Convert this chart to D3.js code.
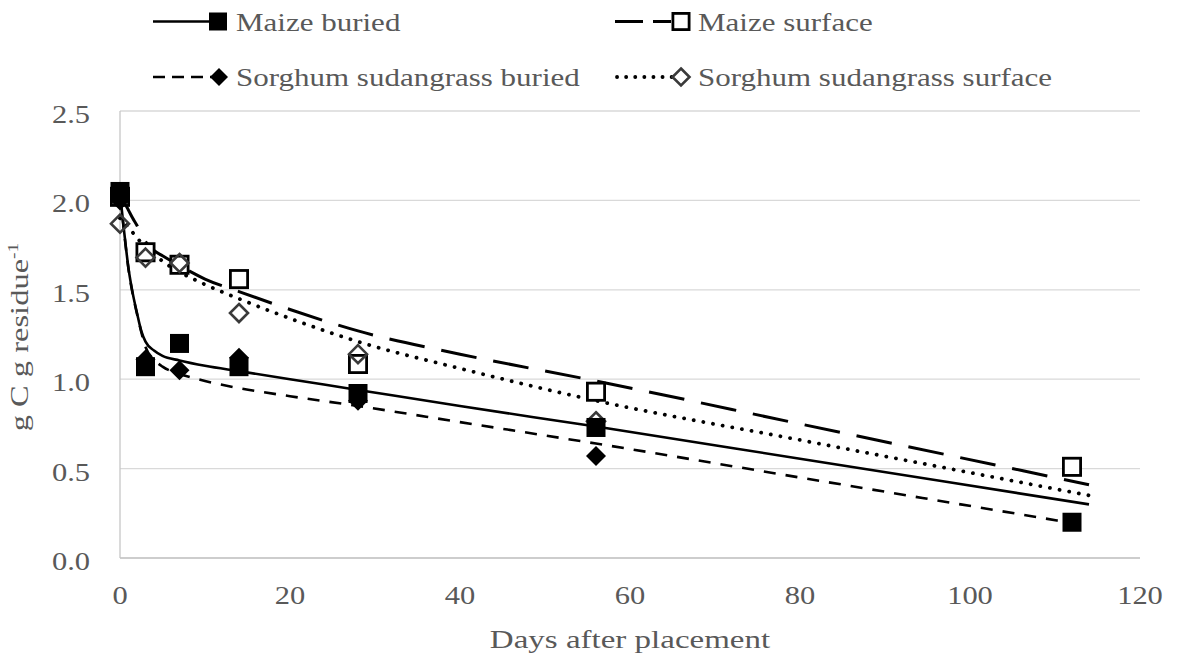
<!DOCTYPE html>
<html>
<head>
<meta charset="utf-8">
<script src="https://cdn.jsdelivr.net/npm/d3@7"></script>
<style>
html,body{margin:0;padding:0;background:#fff;}
svg{display:block;}
</style>
</head>
<body>
<svg id="chart" width="1177" height="666"></svg>
<script>
// ---- data ----
const days = [0, 3, 7, 14, 28, 56, 112];
const maizeBuried    = [2.05, 1.07, 1.20, 1.07, 0.92, 0.73, 0.20];
const maizeSurface   = [2.02, 1.71, 1.64, 1.56, 1.085, 0.93, 0.51];
const sorghumBuried  = [2.00, 1.11, 1.05, 1.12, 0.88, 0.57, null];
const sorghumSurface = [1.87, 1.68, 1.65, 1.37, 1.14, 0.765, null];

const fitDays = [0, 0.5, 1, 1.5, 2, 2.5, 3, 4, 5, 7, 10, 14, 20, 28, 40, 56, 80, 114];
const maizeBuriedFit    = [2.04, 1.82, 1.62, 1.48, 1.37, 1.27, 1.21, 1.16, 1.13, 1.105, 1.075, 1.045, 1.00, 0.94, 0.85, 0.735, 0.555, 0.30];
const maizeSurfaceFit   = [2.03, 1.99, 1.945, 1.90, 1.86, 1.81, 1.77, 1.72, 1.69, 1.635, 1.56, 1.49, 1.39, 1.27, 1.14, 0.99, 0.75, 0.41];
const sorghumBuriedFit  = [2.03, 1.815, 1.615, 1.475, 1.365, 1.265, 1.18, 1.11, 1.07, 1.03, 0.99, 0.95, 0.905, 0.85, 0.76, 0.64, 0.45, 0.18];
const sorghumSurfaceFit = [1.90, 1.88, 1.85, 1.82, 1.79, 1.765, 1.74, 1.70, 1.66, 1.60, 1.53, 1.45, 1.34, 1.21, 1.06, 0.88, 0.66, 0.35];

const xTicks = [0, 20, 40, 60, 80, 100, 120];
const yTicks = [0, 0.5, 1.0, 1.5, 2.0, 2.5];
const seriesNames = ["Maize buried", "Maize surface", "Sorghum sudangrass buried", "Sorghum sudangrass surface"];
const xTitle = "Days  after placement";
const yTitle = "g C g residue";
const yTitleSup = "-1";

// ---- layout ----
const svg = d3.select("#chart");
const FONT = "'Liberation Serif','Times New Roman',serif";
const TXT = "#595959";
const x = d3.scaleLinear().domain([0, 120]).range([120, 1140]);
const y = d3.scaleLinear().domain([0, 2.5]).range([558, 111]);

function label(g, str, px, py, opts) {
  const o = Object.assign({size: 25, sx: 1.24, anchor: "start", rot: 0}, opts || {});
  return g.append("text")
    .attr("transform", `translate(${px},${py}) rotate(${o.rot}) scale(${o.sx},1)`)
    .attr("font-family", FONT).attr("font-size", o.size)
    .attr("fill", TXT).attr("text-anchor", o.anchor)
    .text(str);
}

// gridlines
svg.append("g").selectAll("line").data(yTicks).join("line")
  .attr("x1", x(0)).attr("x2", x(120))
  .attr("y1", d => y(d)).attr("y2", d => y(d))
  .attr("stroke", "#d9d9d9").attr("stroke-width", 1.3);

// axis lines
svg.append("line").attr("x1", x(0)).attr("x2", x(0)).attr("y1", y(2.5)).attr("y2", y(0))
  .attr("stroke", "#c6c6c6").attr("stroke-width", 1.3);
svg.append("line").attr("x1", x(0)).attr("x2", x(120)).attr("y1", y(0)).attr("y2", y(0))
  .attr("stroke", "#c6c6c6").attr("stroke-width", 1.3);

// tick labels
const tl = svg.append("g");
yTicks.forEach(v => label(tl, d3.format(".1f")(v), 90, y(v) + 12, {anchor: "end", sx: 1.22}));
xTicks.forEach(v => label(tl, String(v), x(v), 604, {anchor: "middle", sx: 1.22}));

// titles
label(svg, xTitle, 630, 648, {anchor: "middle", size: 26, sx: 1.27});
const yt = label(svg, yTitle, 28, 337, {anchor: "middle", rot: -90, sx: 1.3});
yt.append("tspan").attr("font-size", 15).attr("dy", -10).text(yTitleSup);

// ---- fitted lines ----
const line = d3.line().x(d => x(d[0])).y(d => y(d[1])).curve(d3.curveMonotoneX);
const styles = [
  {dash: null, w: 2.6, cap: "butt"},
  {dash: "36,17", w: 3, cap: "butt"},
  {dash: "12,10", w: 2.6, cap: "butt"},
  {dash: "0.1,9.7", w: 3.8, cap: "round"}
];
const legendDash = [null, "28,10", "12,7", "0.1,9"];
const fits = [maizeBuriedFit, maizeSurfaceFit, sorghumBuriedFit, sorghumSurfaceFit];
const lg = svg.append("g");
[2, 0, 1, 3].forEach(i => {
  const f = fits[i];
  lg.append("path")
    .attr("d", line(fitDays.map((d, j) => [d, f[j]])))
    .attr("fill", "none").attr("stroke", "#000")
    .attr("stroke-width", styles[i].w)
    .attr("stroke-linecap", styles[i].cap)
    .attr("stroke-dasharray", styles[i].dash);
});

// ---- markers ----
function square(g, cx, cy, s, filled) {
  if (filled) {
    g.append("rect").attr("x", cx - s/2).attr("y", cy - s/2).attr("width", s).attr("height", s).attr("fill", "#000");
  } else {
    g.append("rect").attr("x", cx - s/2 + 1.4).attr("y", cy - s/2 + 1.4).attr("width", s - 2.8).attr("height", s - 2.8)
      .attr("fill", "#fff").attr("stroke", "#000").attr("stroke-width", 2.8);
  }
}
function diamond(g, cx, cy, r, filled) {
  const p = `M${cx},${cy - r}L${cx + r},${cy}L${cx},${cy + r}L${cx - r},${cy}Z`;
  if (filled) g.append("path").attr("d", p).attr("fill", "#000");
  else g.append("path").attr("d", p).attr("fill", "none").attr("stroke", "#3a3a3a").attr("stroke-width", 2.6).attr("stroke-linejoin", "miter");
}

const mg = svg.append("g");
days.forEach((d, i) => { if (maizeSurface[i] != null) square(mg, x(d), y(maizeSurface[i]), 20, false); });
days.forEach((d, i) => { if (sorghumSurface[i] != null) diamond(mg, x(d), y(sorghumSurface[i]), 9, false); });
days.forEach((d, i) => { if (maizeBuried[i] != null) square(mg, x(d), y(maizeBuried[i]), 19, true); });
days.forEach((d, i) => { if (sorghumBuried[i] != null) diamond(mg, x(d), y(sorghumBuried[i]), 10, true); });

// ---- legend ----
const leg = svg.append("g");
const legItems = [
  {x0: 153, x1: 209, mx: 218, cy: 21.5, tx: 236, ty: 30.5},
  {x0: 615, x1: 671, mx: 681, cy: 21.5, tx: 698, ty: 30.5},
  {x0: 153, x1: 212, mx: 219, cy: 77, tx: 236, ty: 86},
  {x0: 617, x1: 672, mx: 681, cy: 77, tx: 698, ty: 86}
];
legItems.forEach((it, i) => {
  const st = styles[i];
  leg.append("line").attr("x1", it.x0).attr("x2", it.x1).attr("y1", it.cy).attr("y2", it.cy)
    .attr("stroke", "#000").attr("stroke-width", st.w)
    .attr("stroke-linecap", st.cap).attr("stroke-dasharray", legendDash[i]);
  if (i === 0) square(leg, it.mx, it.cy, 18, true);
  if (i === 1) square(leg, it.mx, it.cy, 19, false);
  if (i === 2) diamond(leg, it.mx, it.cy, 9, true);
  if (i === 3) diamond(leg, it.mx, it.cy, 8.5, false);
  label(leg, seriesNames[i], it.tx, it.ty, {sx: 1.24});
});
</script>
</body>
</html>
